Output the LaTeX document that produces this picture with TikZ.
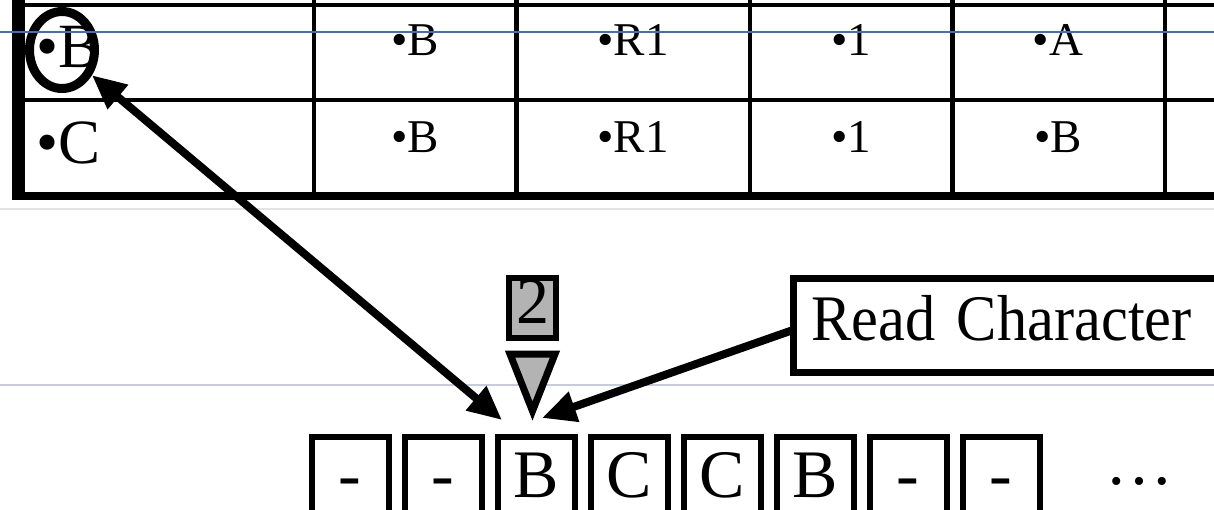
\documentclass[tikz,border=0pt]{standalone}
\usepackage{fontspec}
\setmainfont{Liberation Serif}
\newfontfamily\rcfont[FakeStretch=0.93]{Liberation Serif}
\usepackage{graphicx}
\usetikzlibrary{shapes.geometric,arrows.meta}
\definecolor{ptrgray}{RGB}{179,179,179}
\definecolor{guideblue}{RGB}{61,112,192}
\definecolor{guidegray}{RGB}{225,228,234}
\definecolor{guidelav}{RGB}{196,204,224}
\newcommand\fsA{\fontsize{31.5pt}{31.5pt}\selectfont}
\newcommand\fsB{\fontsize{23.5pt}{23.5pt}\selectfont}
\newcommand\fsC{\fontsize{34pt}{34pt}\selectfont}
\newcommand\fsD{\rcfont\fontsize{32.5pt}{32.5pt}\selectfont}
\newcommand\fsE{\fontsize{33pt}{33pt}\selectfont}
\newcommand\bu{•}
\tikzset{bighead/.tip={Triangle[length=17pt,width=15pt]}}
\begin{document}
\begin{tikzpicture}[x=0.5pt,y=-0.5pt,
  guide/.style={line width=1pt},
  thin rule/.style={line width=2pt},
  mid rule/.style={line width=2.5pt},
  colA/.style={anchor=base west, font=\fsA, inner sep=0pt},
  colB/.style={anchor=base, font=\fsB, inner sep=0pt},
  tcell/.style={draw, line width=3pt, minimum width=38.5pt, minimum height=50pt,
    inner sep=0pt, text height=22.5pt, text depth=12.5pt, font=\fsC},
  rcbox/.style={draw, line width=3.5pt, text width=210pt, align=left, inner xsep=9pt,
    inner ysep=0pt, outer sep=0pt, text height=21.5pt, text depth=6.5pt,
    minimum height=47pt, font=\fsD},
  ptrbox/.style={draw, fill=ptrgray, line width=3pt, minimum width=23.5pt,
    minimum height=30pt, inner sep=0pt, text height=22.5pt, text depth=7.5pt, font=\fsE},
  ptrtri/.style={draw, fill=ptrgray, line width=3.5pt, line join=miter},
  ring/.style={draw, ellipse, line width=4.5pt, minimum width=32.5pt,
    minimum height=38.5pt, inner sep=0pt},
  bigarrow/.style={line width=4pt}
]
\useasboundingbox (0,0) rectangle (1214,509);
% guide lines
\draw[guide, guidegray] (0,209) -- (1214,209);
\draw[guide, guidelav] (0,385) -- (1214,385);
% table
\draw[thin rule] (12,5) -- (1214,5);
\draw[thin rule] (12,100) -- (1214,100);
\draw[line width=4pt] (12,196) -- (1214,196);
\draw[line width=6.5pt] (18.5,0) -- (18.5,200);
\draw[thin rule] (314,0) -- (314,196);
\draw[mid rule] (516,0) -- (516,196);
\draw[thin rule] (750,0) -- (750,196);
\draw[mid rule] (952,0) -- (952,196);
\draw[thin rule] (1165,0) -- (1165,196);
% table texts
\node[colA] (c1r1) at (36,67) {\bu B};
\node[colA] (c1r2) at (36,163) {\bu C};
\node[colB] (c2r1) at (415,55) {\bu B};
\node[colB] (c3r1) at (633,55) {\bu R1};
\node[colB] (c4r1) at (851,55) {\bu 1};
\node[colB] (c5r1) at (1058,55) {\bu A};
\node[colB] (c2r2) at (415,152) {\bu B};
\node[colB] (c3r2) at (633,152) {\bu R1};
\node[colB] (c4r2) at (851,152) {\bu 1};
\node[colB] (c5r2) at (1058,152) {\bu B};
% ring
\node[ring] (circ) at (62,50) {};
% tape
\node[tcell] (t1) at (350,487) {-};
\node[tcell] (t2) at (443,487) {-};
\node[tcell] (t3) at (536,487) {B};
\node[tcell] (t4) at (629,487) {C};
\node[tcell] (t5) at (722,487) {C};
\node[tcell] (t6) at (815,487) {B};
\node[tcell] (t7) at (908,487) {-};
\node[tcell] (t8) at (1001,487) {-};
\node[font=\fsC, anchor=base, inner sep=0pt] (dots) at (1139,484) {…};
% pointer
\node[ptrbox] (lbl) at (532.5,308) {2};
\draw[ptrtri] (510,354) -- (555,354) -- (532.5,411) -- cycle;
% read character
\node[rcbox, anchor=west] (rc) at (793,325) {Read Character};
% arrows
\coordinate (a1) at (502,420);
\coordinate (a2) at (542,418);
\draw[bigarrow, bighead-bighead] (circ) -- (a1);
\draw[bigarrow, -bighead] ([yshift=-2.5pt]rc.west) -- (a2);
% blue guide
\draw[guide, guideblue] (0,32) -- (1214,32);
\end{tikzpicture}
\end{document}
